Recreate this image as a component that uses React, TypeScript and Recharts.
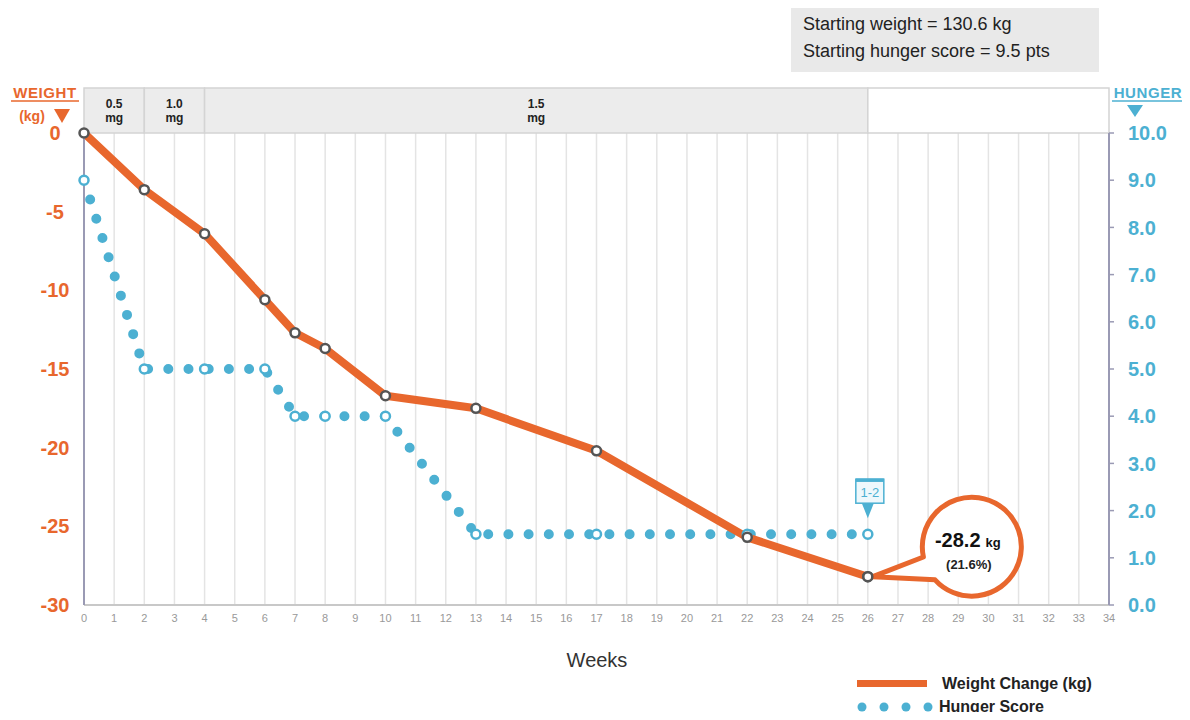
import React from 'react';
import {
  ComposedChart,
  Line,
  XAxis,
  YAxis,
  CartesianGrid,
  ReferenceArea,
  ReferenceDot,
} from 'recharts';

const ORANGE = '#e8672d';
const BLUE = '#4cb0d2';
const AXIS = '#9a9ab4';
const FONT = "'Liberation Sans', Arial, Helvetica, sans-serif";

const weeks = [0, 2, 4, 6, 7, 8, 10, 13, 17, 22, 26];
const weightChange = [0, -3.6, -6.4, -10.6, -12.7, -13.7, -16.7, -17.5, -20.2, -25.7, -28.2];
const hungerScore = [9, 5, 5, 5, 4, 4, 4, 1.5, 1.5, 1.5, 1.5];

const weekTicks = [
  0, 1, 2, 3, 4, 5, 6, 7, 8, 9, 10, 11, 12, 13, 14, 15, 16, 17,
  18, 19, 20, 21, 22, 23, 24, 25, 26, 27, 28, 29, 30, 31, 32, 33, 34,
];
const weightTicks = [0, -5, -10, -15, -20, -25, -30];
const hungerTicks = [10, 9, 8, 7, 6, 5, 4, 3, 2, 1, 0];

// dose escalation bands
const doseFrom = [0, 2, 4, 26];
const doseTo = [2, 4, 26, 34];
const doseText = ['0.5', '1.0', '1.5', ''];

const finalWeek = 26;
const finalWeight = -28.2;
const finalPercent = '21.6%';
const finalHunger = 1.5;
const finalHungerLabel = '1-2';

const data = weeks.map((week, i) => ({
  week,
  weight: weightChange[i],
  hunger: hungerScore[i],
}));

function DoseLabel(props: any) {
  const { viewBox, text } = props;
  if (!viewBox || !text) return null;
  const cx = viewBox.x + viewBox.width / 2;
  return (
    <text textAnchor="middle" fontFamily={FONT} fontSize={12} fontWeight="bold" fill="#222">
      <tspan x={cx} y={viewBox.y + 20}>{text}</tspan>
      <tspan x={cx} y={viewBox.y + 34}>mg</tspan>
    </text>
  );
}

function WeightCallout(props: any) {
  const { cx, cy } = props;
  if (cx == null || cy == null) return null;
  const ox = cx + 104;
  const oy = cy - 30;
  const r = 49.5;
  const a1 = (168 * Math.PI) / 180;
  const a2 = (138 * Math.PI) / 180;
  const p1 = `${ox + r * Math.cos(a1)} ${oy + r * Math.sin(a1)}`;
  const p2 = `${ox + r * Math.cos(a2)} ${oy + r * Math.sin(a2)}`;
  return (
    <g>
      <path
        d={`M${p1} A${r} ${r} 0 1 1 ${p2} L${cx + 5} ${cy} Z`}
        fill="#fff"
        stroke={ORANGE}
        strokeWidth={5}
        strokeLinejoin="round"
      />
      <text x={ox - 4} y={oy} textAnchor="middle" fontFamily={FONT} fontWeight="bold" fill="#111">
        <tspan fontSize={20}>{finalWeight.toFixed(1)}</tspan>
        <tspan fontSize={13} dx={5}>kg</tspan>
      </text>
      <text x={ox - 3} y={oy + 22} textAnchor="middle" fontFamily={FONT} fontSize={13} fontWeight="bold" fill="#222">
        ({finalPercent})
      </text>
      <circle cx={cx} cy={cy} r={4.5} fill="#fff" stroke="#555" strokeWidth={2.5} />
    </g>
  );
}

function HungerTag(props: any) {
  const { cx, cy } = props;
  if (cx == null || cy == null) return null;
  return (
    <g>
      <rect x={cx - 12} y={cy - 55} width={28} height={24} fill="#eef8fc" stroke={BLUE} strokeWidth={1.5} />
      <line x1={cx - 12} x2={cx + 16} y1={cy - 54} y2={cy - 54} stroke={BLUE} strokeWidth={3.5} />
      <path d={`M${cx - 6} ${cy - 31} L${cx + 6} ${cy - 31} L${cx} ${cy - 16} Z`} fill={BLUE} />
      <text x={cx + 2} y={cy - 37} textAnchor="middle" fontFamily={FONT} fontSize={13} fill={BLUE}>
        {finalHungerLabel}
      </text>
    </g>
  );
}

const weightDot = (p: any) => (
  <circle key={`w-${p.index}`} cx={p.cx} cy={p.cy} r={4.5} fill="#fff" stroke="#555" strokeWidth={2.5} />
);
const hungerDot = (p: any) => (
  <circle key={`h-${p.index}`} cx={p.cx} cy={p.cy} r={4.5} fill="#fff" stroke={BLUE} strokeWidth={2.5} />
);

export default function App() {
  return (
    <div style={{ position: 'relative', width: 1190, height: 720, margin: -8, fontFamily: FONT }}>
      <ComposedChart
        width={1190}
        height={720}
        data={data}
        margin={{ top: 133, right: 0, bottom: 85, left: 0 }}
      >
        <CartesianGrid horizontal={false} stroke="#e4e4e4" strokeWidth={1.5} />
        {doseFrom.map((from, i) => (
          <ReferenceArea
            key={i}
            yAxisId="w"
            x1={from}
            x2={doseTo[i]}
            y1={0}
            y2={2.86}
            ifOverflow="visible"
            fill={doseText[i] ? '#ececec' : '#fff'}
            fillOpacity={1}
            stroke="#d4d4d4"
            strokeWidth={1.5}
            label={<DoseLabel text={doseText[i]} />}
          />
        ))}
        <XAxis
          dataKey="week"
          type="number"
          domain={[0, 34]}
          ticks={weekTicks}
          interval={0}
          height={30}
          tickLine={false}
          tickMargin={3}
          axisLine={{ stroke: '#c8c8c8', strokeWidth: 2 }}
          tick={{ fill: '#999', fontSize: 11, fontFamily: FONT }}
        />
        <YAxis
          yAxisId="w"
          width={84}
          domain={[-30, 0]}
          ticks={weightTicks}
          interval={0}
          tickLine={false}
          tickMargin={23}
          axisLine={{ stroke: AXIS, strokeWidth: 2 }}
          tick={{ fill: ORANGE, fontSize: 20, fontWeight: 'bold', fontFamily: FONT, textAnchor: 'middle' }}
        />
        <YAxis
          yAxisId="h"
          orientation="right"
          width={81}
          domain={[0, 10]}
          ticks={hungerTicks}
          interval={0}
          tickLine={{ stroke: AXIS, strokeWidth: 1.5 }}
          tickSize={5}
          tickMargin={14}
          tickFormatter={(v: number) => v.toFixed(1)}
          axisLine={{ stroke: AXIS, strokeWidth: 2 }}
          tick={{ fill: BLUE, fontSize: 20, fontWeight: 'bold', fontFamily: FONT }}
        />
        <Line
          yAxisId="h"
          dataKey="hunger"
          type="linear"
          stroke={BLUE}
          strokeWidth={10}
          strokeDasharray="0 20.2"
          strokeLinecap="round"
          dot={hungerDot}
          activeDot={false}
          isAnimationActive={false}
        />
        <Line
          yAxisId="w"
          dataKey="weight"
          type="linear"
          stroke={ORANGE}
          strokeWidth={8}
          strokeLinejoin="round"
          dot={weightDot}
          activeDot={false}
          isAnimationActive={false}
        />
        <ReferenceDot
          yAxisId="h"
          x={finalWeek}
          y={finalHunger}
          ifOverflow="visible"
          shape={(p: any) => <HungerTag {...p} />}
        />
        <ReferenceDot
          yAxisId="w"
          x={finalWeek}
          y={finalWeight}
          ifOverflow="visible"
          shape={(p: any) => <WeightCallout {...p} />}
        />
      </ComposedChart>

      <svg
        width={1190}
        height={720}
        style={{ position: 'absolute', left: 0, top: 0, pointerEvents: 'none' }}
      >
        {/* starting values box */}
        <rect x={791} y={5} width={308} height={67} fill="#e9e9e9" />
        <text x={803} y={30} fontFamily={FONT} fontSize={18} fill="#222">
          Starting weight = 130.6 kg
        </text>
        <text x={803} y={57} fontFamily={FONT} fontSize={18} fill="#222">
          Starting hunger score = 9.5 pts
        </text>

        {/* axis titles */}
        <text x={45} y={98} textAnchor="middle" fontFamily={FONT} fontSize={15} fontWeight="bold" letterSpacing={0.6} fill={ORANGE}>
          WEIGHT
        </text>
        <line x1={11} x2={79} y1={101} y2={101} stroke={ORANGE} strokeWidth={1.3} />
        <text x={32} y={121} textAnchor="middle" fontFamily={FONT} fontSize={14} fontWeight="bold" fill={ORANGE}>
          (kg)
        </text>
        <path d="M54 109 L70 109 L62 123 Z" fill={ORANGE} />

        <text x={1148} y={98} textAnchor="middle" fontFamily={FONT} fontSize={15} fontWeight="bold" letterSpacing={0.6} fill={BLUE}>
          HUNGER
        </text>
        <line x1={1112} x2={1184} y1={101} y2={101} stroke={BLUE} strokeWidth={1.3} />
        <path d="M1127 105 L1143 105 L1135 117 Z" fill={BLUE} />

        <text x={597} y={667} textAnchor="middle" fontFamily={FONT} fontSize={20} fill="#333">
          Weeks
        </text>

        {/* legend */}
        <rect x={857} y={680} width={70} height={7} fill={ORANGE} />
        <text x={942} y={689} fontFamily={FONT} fontSize={16} fontWeight="bold" fill="#222">
          Weight Change (kg)
        </text>
        {[862, 884, 906, 928].map((x) => (
          <circle key={x} cx={x} cy={707} r={4.5} fill={BLUE} />
        ))}
        <text x={939} y={712} fontFamily={FONT} fontSize={16} fontWeight="bold" fill="#222">
          Hunger Score
        </text>
      </svg>
    </div>
  );
}
